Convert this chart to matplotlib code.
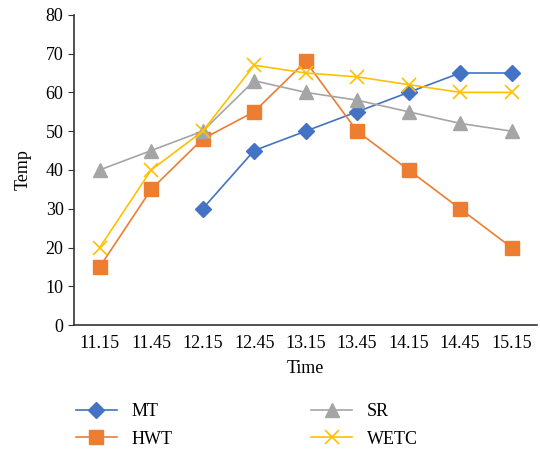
import numpy as np
import matplotlib.pyplot as plt

times = ['11.15', '11.45', '12.15', '12.45', '13.15', '13.45', '14.15', '14.45', '15.15']
mt = [np.nan, np.nan, 30, 45, 50, 55, 60, 65, 65]
hwt = [15, 35, 48, 55, 68, 50, 40, 30, 20]
sr = [40, 45, 50, 63, 60, 58, 55, 52, 50]
wetc = [20, 40, 50, 67, 65, 64, 62, 60, 60]

plt.rcParams['font.family'] = ['Liberation Serif', 'DejaVu Serif']

fig = plt.figure(figsize=(5.4, 4.49), dpi=100)
ax = fig.add_axes([0.137, 0.276, 0.858, 0.691])

x = np.arange(len(times))
ax.plot(x, mt, color='#4472C4', marker='D', markersize=8.5, lw=1.2, label='MT')
ax.plot(x, hwt, color='#ED7D31', marker='s', markersize=10, lw=1.2, label='HWT')
ax.plot(x, sr, color='#A5A5A5', marker='^', markersize=10, lw=1.2, label='SR')
ax.plot(x, wetc, color='#FFC000', marker='x', markersize=10, mew=1.2, lw=1.2, label='WETC')

ax.set_xlim(-0.5, len(times) - 0.5)
ax.set_ylim(0, 80)
ax.set_yticks(range(0, 81, 10))
ax.set_xticks(x)
ax.set_xticklabels(times)
ax.tick_params(axis='x', length=0, labelsize=13, pad=7)
ax.tick_params(axis='y', length=4, labelsize=13, color='#333333')
for s in ['top', 'right']:
    ax.spines[s].set_visible(False)
for s in ['left', 'bottom']:
    ax.spines[s].set_color('#333333')
    ax.spines[s].set_linewidth(1.2)

ax.set_xlabel('Time', fontsize=13, labelpad=6)
ax.set_ylabel('Temp', fontsize=13, labelpad=10)

fig.legend(loc='upper left', bbox_to_anchor=(0.11, 0.139), ncol=2, frameon=False,
           fontsize=13, columnspacing=7.65, handlelength=2.3, handletextpad=0.8,
           labelspacing=0.6)

fig.savefig('out.png', dpi=100)
